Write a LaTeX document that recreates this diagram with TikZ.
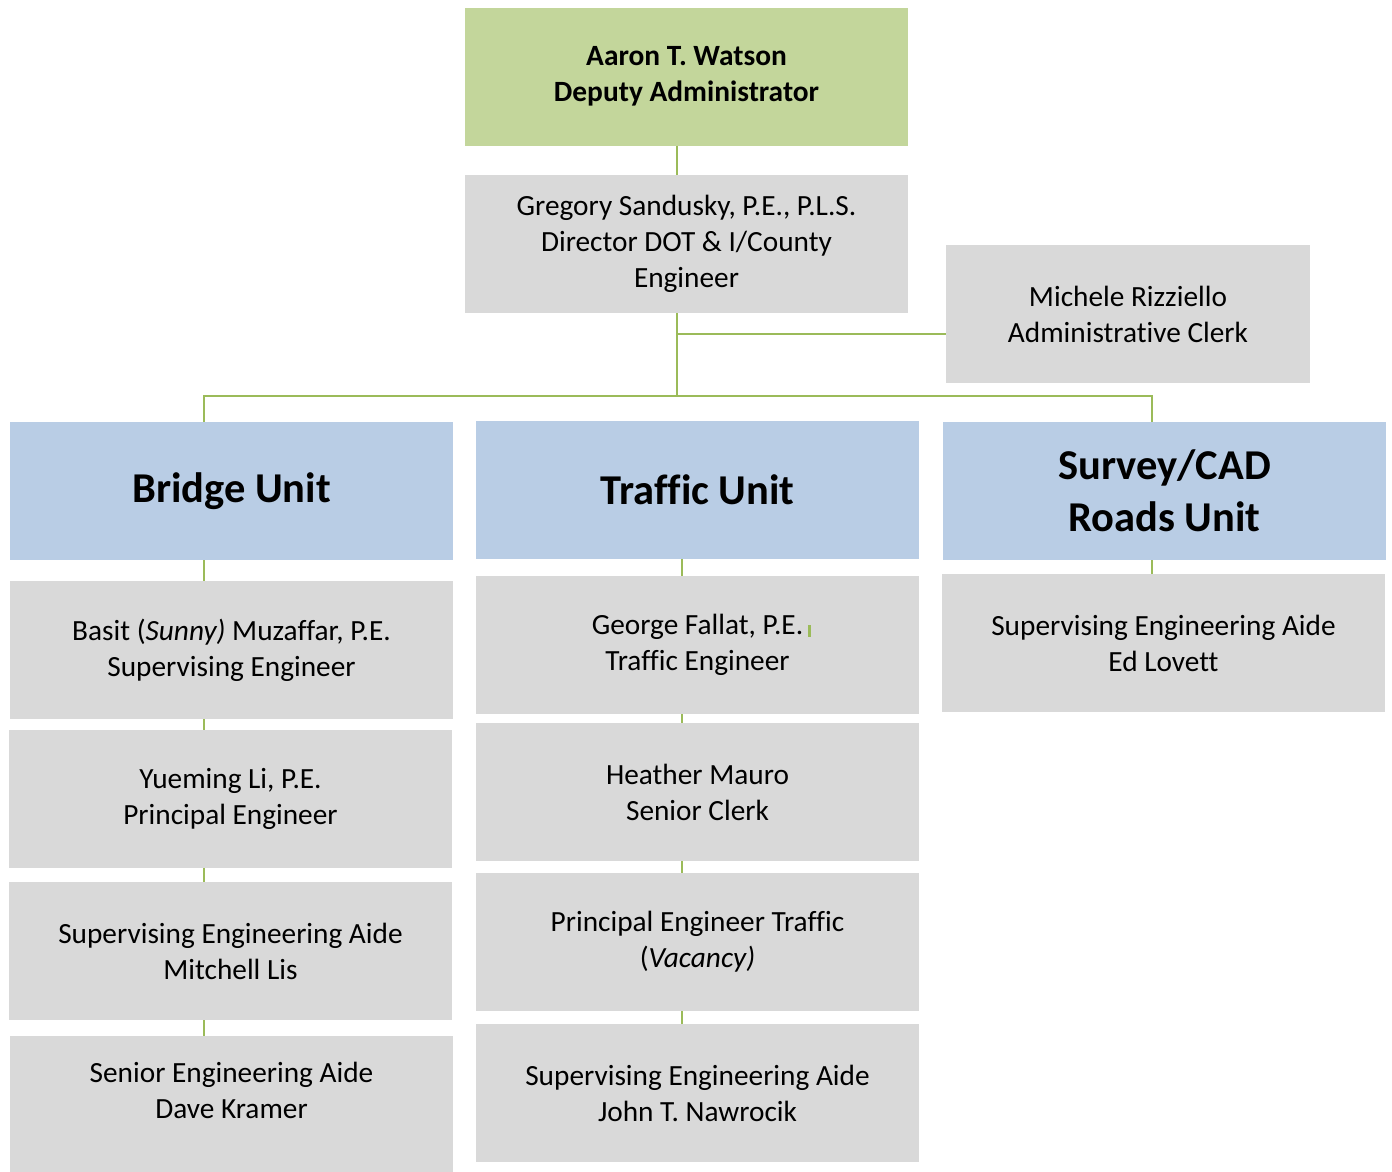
\documentclass[tikz,border=0pt]{standalone}
\usepackage{fontspec}
\setmainfont[Ligatures={NoCommon}]{Carlito}
\definecolor{topgreen}{HTML}{C3D69B}
\definecolor{boxgray}{HTML}{D9D9D9}
\definecolor{unitblue}{HTML}{B9CDE5}
\definecolor{linegreen}{HTML}{9BBB59}
\begin{document}
\begin{tikzpicture}[x=1pt,y=-1pt,
  base/.style={rectangle, draw=none, minimum width=443pt, minimum height=138pt, inner sep=0pt, align=center, text=black},
  person/.style={base, fill=boxgray, font=\fontsize{29.3}{36}\selectfont},
  chief/.style={base, fill=topgreen, font=\fontsize{29.4}{36}\selectfont\bfseries},
  unit/.style={base, fill=unitblue, font=\fontsize{42.5}{52}\selectfont\bfseries},
  conn/.style={draw=linegreen, line width=2pt}]
\useasboundingbox (0,0) rectangle (1392,1171);
% top levels
\node[chief] (top) at (686.5,76.5) {Aaron T. Watson\\Deputy Administrator};
\node[person] (dir) at (686.5,244) {Gregory Sandusky, P.E., P.L.S.\\Director DOT \& I/County\\Engineer};
\node[person, minimum width=364pt] (clerk) at (1128,314) {Michele Rizziello\\Administrative Clerk};
% units
\node[unit] (bridge) at (231.5,491) {Bridge Unit};
\node[unit] (traffic) at (697.5,490) {Traffic Unit};
\node[unit] (survey) at (1164.5,491) {Survey/CAD\\Roads Unit};
% bridge column
\node[person] (b1) at (231.5,650) {Basit (\textit{Sunny)} Muzaffar, P.E.\\Supervising Engineer};
\node[person] (b2) at (230.5,799) {Yueming Li, P.E.\\Principal Engineer};
\node[person] (b3) at (230.5,951) {Supervising Engineering Aide\\Mitchell Lis};
\fill[boxgray] (10,1100) rectangle (453,1175);
\node[person, minimum height=108pt] (b4) at (231.5,1090) {Senior Engineering Aide\\Dave Kramer};
% traffic column
\node[person] (t1) at (697.5,645) {George Fallat, P.E.\\Traffic Engineer};
\node[person] (t2) at (697.5,792) {Heather Mauro\\Senior Clerk};
\node[person] (t3) at (697.5,942) {Principal Engineer Traffic\\(\textit{Vacancy)}};
\node[person] (t4) at (697.5,1093) {Supervising Engineering Aide\\John T. Nawrocik};
% survey column
\node[person] (s1) at (1163.5,643) {Supervising Engineering Aide\\Ed Lovett};
% connector coordinates
\coordinate (spine) at (677,396);
\coordinate (bl) at (204,396);
\coordinate (br) at (1151.5,396);
\coordinate (tl) at (682,0);
\coordinate (stubA) at (809,625);
\coordinate (stubB) at (809,637);
% connectors
\draw[conn] (top.south -| spine) -- (dir.north -| spine);
\draw[conn] (dir.south -| spine) -- (spine);
\draw[conn] ([yshift=-20pt]clerk.west) -- ([yshift=-20pt]clerk.west -| spine);
\draw[conn] (bridge.north -| bl) -- (bl) -- (br) -- (survey.north -| br);
\draw[conn] (bridge.south -| bl) -- (b1.north -| bl);
\draw[conn] (b1.south -| bl) -- (b2.north -| bl);
\draw[conn] (b2.south -| bl) -- (b3.north -| bl);
\draw[conn] (b3.south -| bl) -- (b4.north -| bl);
\draw[conn] (traffic.south -| tl) -- (t1.north -| tl);
\draw[conn] (t1.south -| tl) -- (t2.north -| tl);
\draw[conn] (t2.south -| tl) -- (t3.north -| tl);
\draw[conn] (t3.south -| tl) -- (t4.north -| tl);
\draw[conn] (survey.south -| br) -- (s1.north -| br);
\draw[draw=linegreen, line width=3pt] (stubA) -- (stubB);
\end{tikzpicture}
\end{document}
